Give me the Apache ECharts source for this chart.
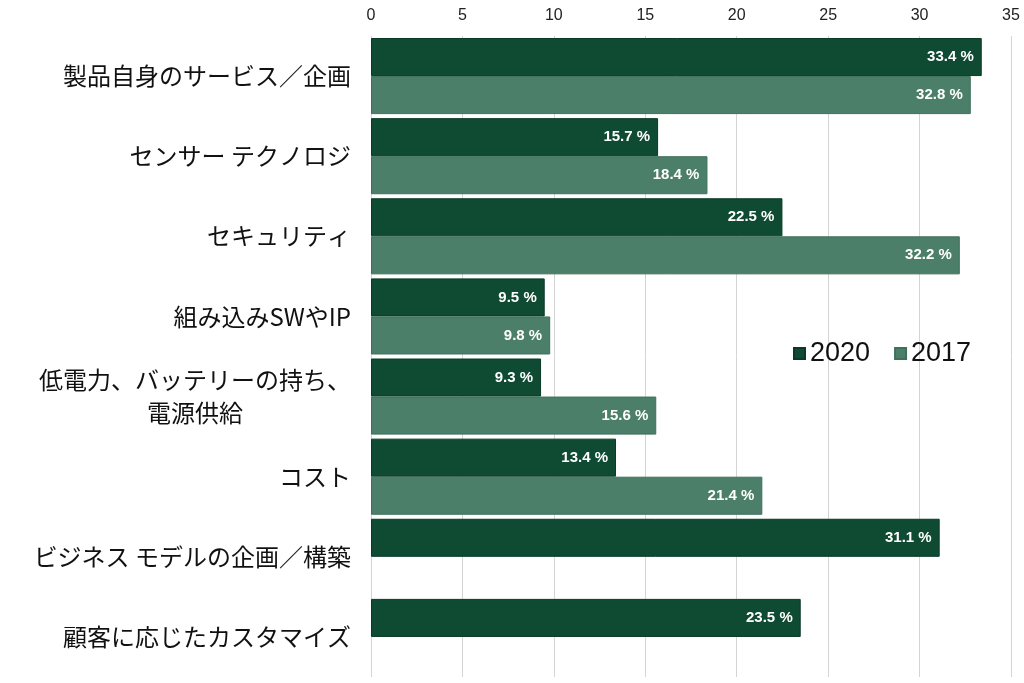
<!DOCTYPE html>
<html><head><meta charset="utf-8">
<script src="https://cdn.jsdelivr.net/npm/echarts@6/dist/echarts.min.js"></script>
<style>html,body{margin:0;padding:0;background:#fff}#c{width:1024px;height:683px}</style>
</head><body><div id="c"></div>
<script>
const categories = ['製品自身のサービス／企画','センサー テクノロジ','セキュリティ','組み込みSWやIP','低電力、バッテリーの持ち、\n電源供給','コスト','ビジネス モデルの企画／構築','顧客に応じたカスタマイズ'];
const values2020 = [33.4, 15.7, 22.5, 9.5, 9.3, 13.4, 31.1, 23.5];
const values2017 = [32.8, 18.4, 32.2, 9.8, 15.6, 21.4, null, null];
const tickMax = 35, tickStep = 5;

const chart = echarts.init(document.getElementById('c'), null, {renderer:'canvas'});
const lbl = {show:true, position:'insideRight', color:'#fff', fontWeight:'bold', fontSize:15,
  fontFamily:'Liberation Sans, Arial, sans-serif', distance:8, formatter: p => p.value.toFixed(1) + ' %'};
chart.setOption({
  animation:false,
  grid:{left:371, right:13, top:36, bottom:6, containLabel:false},
  legend:{data:['2020','2017'], left:788, top:335, itemWidth:11, itemHeight:11, itemGap:24,
    icon:'rect', textStyle:{fontSize:27, color:'#111', fontFamily:'Liberation Sans, Arial, sans-serif'}},
  xAxis:{type:'value', position:'top', min:0, max:tickMax, interval:tickStep,
    axisLine:{show:false}, axisTick:{show:false},
    axisLabel:{fontSize:16, color:'#222', margin:12, fontFamily:'Liberation Sans, Arial, sans-serif'},
    splitLine:{lineStyle:{color:'#d4d4d4', width:1}}},
  yAxis:{type:'category', inverse:true, data:categories,
    axisLine:{show:false}, axisTick:{show:false},
    axisLabel:{color:'#111', margin:20, align:'right',
      formatter: v => v.split('\n').map(s => '{c|' + s + '}').join('\n'),
      rich:{c:{fontSize:24, color:'#111', align:'center', lineHeight:33,
        fontFamily:'Noto Sans CJK JP, sans-serif'}}}},
  series:[
    {name:'2020', type:'bar', data:values2020, barGap:'0%', barCategoryGap:'5%',
      itemStyle:{color:'#0f4a33', borderColor:'#0a3a27', borderWidth:1}, label:lbl},
    {name:'2017', type:'bar', data:values2017,
      itemStyle:{color:'#4b7f69', borderColor:'#3e705a', borderWidth:1}, label:lbl}
  ]
});
</script></body></html>
